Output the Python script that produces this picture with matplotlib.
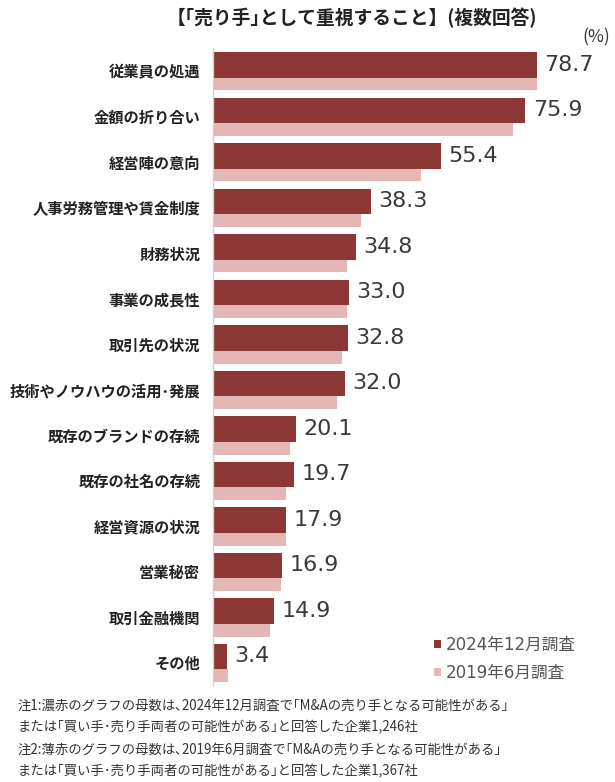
import matplotlib.pyplot as plt

plt.rcParams['font.family'] = ['Noto Sans CJK JP', 'DejaVu Sans']

# data
categories = ['従業員の処遇', '金額の折り合い', '経営陣の意向', '人事労務管理や賃金制度',
              '財務状況', '事業の成長性', '取引先の状況', '技術やノウハウの活用･発展',
              '既存のブランドの存続', '既存の社名の存続', '経営資源の状況', '営業秘密',
              '取引金融機関', 'その他']
values_2024 = [78.7, 75.9, 55.4, 38.3, 34.8, 33.0, 32.8, 32.0, 20.1, 19.7, 17.9, 16.9, 14.9, 3.4]
values_2019 = [78.6, 72.9, 50.5, 36.0, 32.7, 32.5, 31.3, 30.2, 18.8, 17.7, 17.7, 16.6, 13.9, 3.6]
series_names = ['2024年12月調査', '2019年6月調査']

dark = '#8c3735'
light = '#e4b7b7'
txt = '#333333'

fig = plt.figure(figsize=(6.15, 7.82), dpi=100)
ax = fig.add_axes([0.3459, 0.1235, 0.6364, 0.8146])

pos = list(range(len(categories)))
h_dark = 0.56
h_light = 0.285
ax.barh([p - 0.14 for p in pos], values_2024, height=h_dark, color=dark,
        label=series_names[0])
ax.barh([p + 0.2825 for p in pos], values_2019, height=h_light, color=light,
        label=series_names[1])

# value labels for latest survey
for p, v in zip(pos, values_2024):
    ax.text(v + 1.8, p - 0.14, f'{v:.1f}', va='center', ha='left',
            fontsize=16, color='#3a3a3a', family='DejaVu Sans')

ax.set_xlim(0, 95)
ax.set_ylim(13.5, -0.5)
ax.set_yticks(pos)
ax.set_yticklabels(categories, fontsize=11, fontweight='bold', color='#222222')
ax.tick_params(axis='y', length=0, pad=9)
ax.set_xticks([])
for s in ['top', 'right', 'bottom']:
    ax.spines[s].set_visible(False)
ax.spines['left'].set_color('#d0d0d0')
ax.spines['left'].set_linewidth(1)

leg = ax.legend(loc='upper left', bbox_to_anchor=(434 / 615, 1 - 636 / 782),
                bbox_transform=fig.transFigure, frameon=False,
                prop={'family': ['DejaVu Sans', 'Noto Sans CJK JP'], 'size': 12},
                handlelength=0.4, handleheight=0.4, handletextpad=0.3,
                labelspacing=0.6, borderpad=0, borderaxespad=0, labelcolor='#555555')

fig.text(167 / 615, 1 - 18 / 782, '【｢売り手｣として重視すること】(複数回答)',
         ha='left', va='center', fontsize=13.5, fontweight='bold', color='#222222')
fig.text(610 / 615, 1 - 37 / 782, '(%)', ha='right', va='center',
         fontsize=12.5, color=txt)

notes = ['注1:濃赤のグラフの母数は､2024年12月調査で｢M&Aの売り手となる可能性がある｣',
         'または｢買い手･売り手両者の可能性がある｣と回答した企業1,246社',
         '注2:薄赤のグラフの母数は､2019年6月調査で｢M&Aの売り手となる可能性がある｣',
         'または｢買い手･売り手両者の可能性がある｣と回答した企業1,367社']
for t, y in zip(notes, [706, 727, 750, 771]):
    fig.text(18 / 615, 1 - y / 782, t, ha='left', va='center', fontsize=9.6, color=txt)

fig.savefig('out.png', dpi=100)
